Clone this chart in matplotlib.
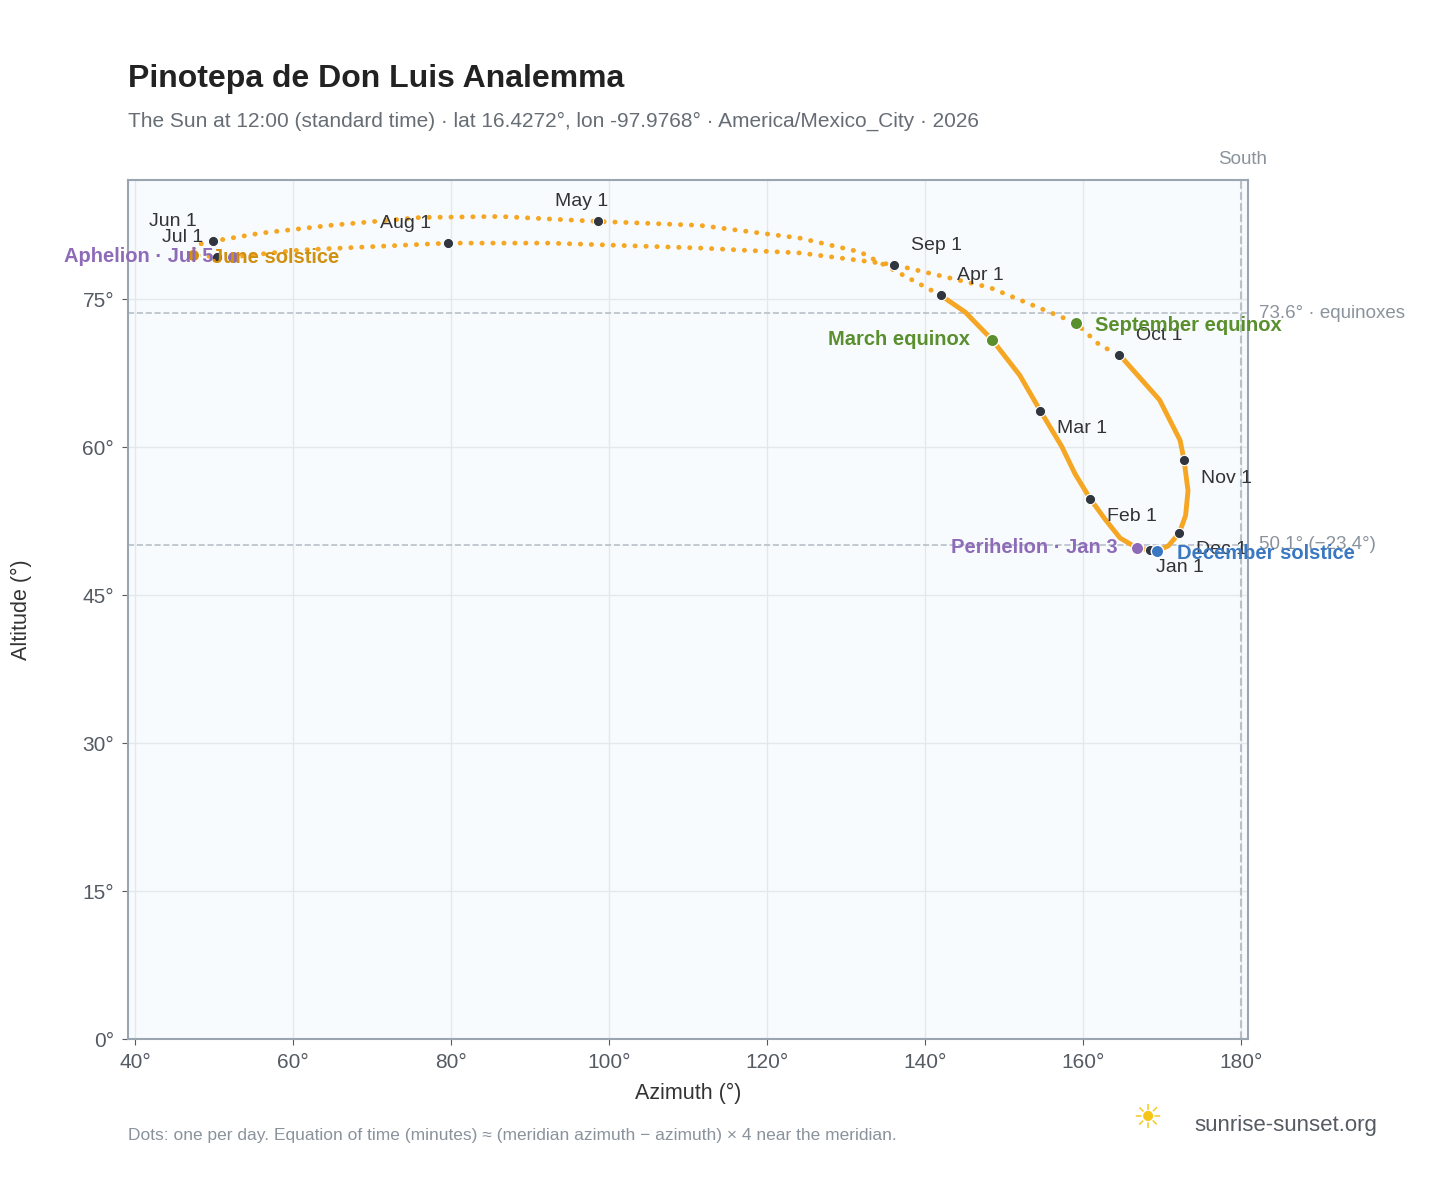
import matplotlib
matplotlib.use("Agg")
import matplotlib.pyplot as plt

plt.rcParams["font.family"] = ["Liberation Sans", "DejaVu Sans"]

# path of the noon sun (azimuth, altitude), in date order
winter_az = [164.6, 169.7, 172.3, 172.8, 173.3, 173.0, 172.2, 170.8, 169.4, 168.5, 166.8, 164.7, 162.8,
             160.9, 159.0, 157.3, 154.6, 152.0, 148.5, 145.1, 142.0]
winter_alt = [69.4, 64.8, 60.7, 58.7, 55.6, 53.1, 51.3, 50.0, 49.5, 49.6, 49.8, 50.8, 52.7,
              54.8, 57.3, 60.1, 63.7, 67.3, 70.9, 73.7, 75.4]
summer_az = [142.0, 131.8, 124.2, 111.5, 98.6, 86.2, 76.1, 64.7, 55.8, 49.9, 47.6, 47.3, 50.4, 52.4,
             60.9, 79.6, 92.5, 111.5, 124.2, 136.1, 148.2, 159.1, 162.2, 164.6]
summer_alt = [75.4, 79.8, 81.2, 82.5, 82.9, 83.4, 83.3, 82.5, 81.7, 80.9, 80.5, 79.5, 79.3, 79.3,
              80.0, 80.7, 80.7, 80.2, 79.7, 78.5, 76.2, 72.6, 70.3, 69.4]

month_names = ["Jan 1", "Feb 1", "Mar 1", "Apr 1", "May 1", "Jun 1", "Jul 1", "Aug 1", "Sep 1", "Oct 1", "Nov 1", "Dec 1"]
month_az = [168.5, 160.9, 154.6, 142.0, 98.6, 49.9, 50.4, 79.6, 136.1, 164.6, 172.8, 172.2]
month_alt = [49.6, 54.8, 63.7, 75.4, 82.9, 80.9, 79.3, 80.7, 78.5, 69.4, 58.7, 51.3]

equinox_alt = 73.6
dec_solstice_alt = 50.1

ORANGE = "#f5a623"
GREEN = "#5a8f2e"
PURPLE = "#8e6bb8"
BLUE = "#3a78c2"
GRAY = "#8a939c"

fig = plt.figure(figsize=(14.48, 11.88), dpi=100)
ax = fig.add_axes([0.0884, 0.1254, 0.7735, 0.7231])
ax.set_facecolor("#f8fbfe")
ax.set_xlim(39.1, 180.9)
ax.set_ylim(0, 87.1)
ax.set_xticks(range(40, 181, 20))
ax.set_xticklabels([f"{v}°" for v in range(40, 181, 20)])
ax.set_yticks(range(0, 76, 15))
ax.set_yticklabels([f"{v}°" for v in range(0, 76, 15)])
ax.grid(color="#e3e8ee", lw=1)
ax.set_axisbelow(True)
for s in ax.spines.values():
    s.set_color("#9aa5b1")
    s.set_linewidth(1.5)
ax.tick_params(colors="#555b63", labelsize=15, length=4, pad=6)
ax.set_xlabel("Azimuth (°)", fontsize=15.5, color="#333", labelpad=8)
ax.set_ylabel("Altitude (°)", fontsize=15.5, color="#333", labelpad=36)

ax.plot(winter_az, winter_alt, color=ORANGE, lw=3.5, solid_capstyle="round", solid_joinstyle="round", zorder=3)
ax.plot(summer_az, summer_alt, color=ORANGE, lw=3.5, ls=(0, (0.05, 2.2)),
        dash_capstyle="round", zorder=3)

ax.axhline(equinox_alt, color="#b8c0c8", ls="--", lw=1.2, zorder=1)
ax.axhline(dec_solstice_alt, color="#b8c0c8", ls="--", lw=1.2, zorder=1)
ax.axvline(180, color="#b8c0c8", ls="--", lw=1.5, zorder=1)
ax.text(1.01, equinox_alt, "73.6° · equinoxes", transform=ax.get_yaxis_transform(),
        color=GRAY, fontsize=13.5, va="center", clip_on=False)
ax.text(1.01, dec_solstice_alt, "50.1° (−23.4°)", transform=ax.get_yaxis_transform(),
        color=GRAY, fontsize=13.5, va="center", clip_on=False)
ax.text(183.3, 88.3, "South", color=GRAY, fontsize=13.5, ha="right", va="bottom")

ax.scatter(month_az, month_alt, s=55, color="#2f3640", zorder=5, edgecolor="white", linewidth=0.8)
offsets = {"Jan 1": (4, -13, "left"), "Feb 1": (12, -13, "left"), "Mar 1": (12, -13, "left"),
           "Apr 1": (12, 14, "left"), "May 1": (-12, 14, "center"), "Jun 1": (-12, 14, "right"),
           "Jul 1": (-10, 14, "right"), "Aug 1": (-12, 14, "right"), "Sep 1": (12, 14, "left"),
           "Oct 1": (12, 14, "left"), "Nov 1": (12, -13, "left"), "Dec 1": (12, -12, "left")}
for name, x, y in zip(month_names, month_az, month_alt):
    dx, dy, ha = offsets[name]
    ax.annotate(name, (x, y), xytext=(dx, dy), textcoords="offset points",
                fontsize=14, color="#333", ha=ha, va="center", zorder=6)

events = [
    ("March equinox", 148.5, 70.9, GREEN, -16, 0, "right"),
    ("September equinox", 159.1, 72.6, GREEN, 14, -2, "left"),
    ("Perihelion · Jan 3", 166.8, 49.8, PURPLE, -14, 0, "right"),
    ("December solstice", 169.4, 49.5, BLUE, 14, -2, "left"),
    ("June solstice", 47.3, 79.5, "#d09010", 14, -2, "left"),
    ("Aphelion · Jul 5", 52.4, 79.3, PURPLE, -14, 0, "right"),
]
for name, x, y, c, dx, dy, ha in events:
    ax.scatter([x], [y], s=80, color=c, zorder=7, edgecolor="white", linewidth=1)
    ax.annotate(name, (x, y), xytext=(dx, dy), textcoords="offset points", fontsize=14.5,
                fontweight="bold", color=c, ha=ha, va="center", zorder=8, annotation_clip=False)

fig.text(0.0884, 0.927, "Pinotepa de Don Luis Analemma", fontsize=23, fontweight="bold", color="#222")
fig.text(0.0884, 0.893, "The Sun at 12:00 (standard time) · lat 16.4272°, lon -97.9768° · America/Mexico_City · 2026",
         fontsize=15, color="#666d75")
fig.text(0.0884, 0.040, "Dots: one per day. Equation of time (minutes) ≈ (meridian azimuth − azimuth) × 4 near the meridian.",
         fontsize=12.5, color=GRAY)
fig.text(0.951, 0.053, "sunrise-sunset.org", fontsize=16, color="#555b63", ha="right", va="center")
fig.text(0.792, 0.058, "☀", fontsize=24, color="#f5c518", ha="center", va="center", family="DejaVu Sans")

fig.savefig("out.png", dpi=100)
